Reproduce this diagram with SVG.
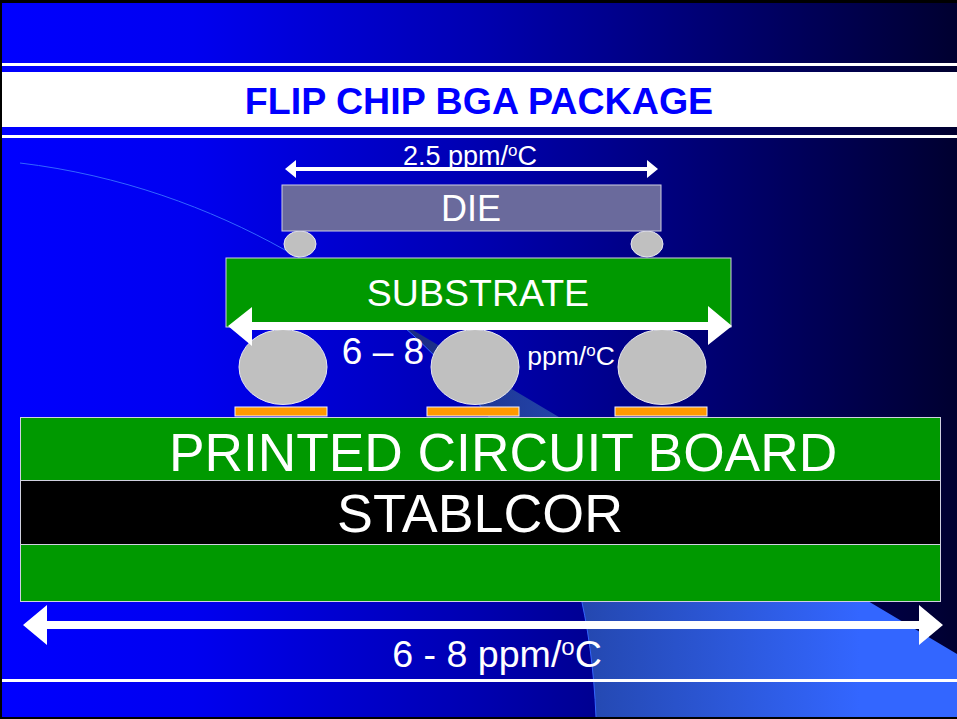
<svg xmlns="http://www.w3.org/2000/svg" width="957" height="719" viewBox="0 0 957 719">
<defs>
<linearGradient id="bg" gradientUnits="userSpaceOnUse" x1="2" y1="0" x2="957" y2="0"><stop offset="0" stop-color="#0000ff"/><stop offset="0.2" stop-color="#0000f0"/><stop offset="0.5" stop-color="#0000b0"/><stop offset="0.75" stop-color="#000070"/><stop offset="1" stop-color="#000030"/></linearGradient>
<linearGradient id="swoosh" gradientUnits="userSpaceOnUse" x1="400" y1="0" x2="860" y2="0"><stop offset="0" stop-color="#1a2a80"/><stop offset="0.4" stop-color="#2448b0"/><stop offset="1" stop-color="#3366ff"/></linearGradient>
</defs>
<style>
.t{font-family:"Liberation Sans",Arial,sans-serif;fill:#fff}
.w{fill:#fff}
.box{stroke:#d0d0e0;stroke-width:1}
.ball{fill:#c0c0c0;stroke:#e8e8f0;stroke-width:1}
.pad{fill:#ff9900;stroke:#f0f0ff;stroke-width:1}
.g{fill:#009900}
</style>
<rect width="957" height="719" fill="#000"/>
<rect x="2" y="3" width="955" height="714" fill="url(#bg)"/>
<path d="M396,320 L957,654 V717 H596 C594,670 588,625 578,585 C560,510 500,410 396,320Z" fill="url(#swoosh)"/>
<path d="M20,163 C120,175 210,208 285,250 C340,280 375,305 396,320 C500,410 560,510 578,585 C588,625 594,670 596,717" fill="none" stroke="#3366ff" stroke-width="1"/>
<g id="title-band">
<rect x="2" y="63" width="955" height="3" class="w"/>
<rect x="2" y="72" width="955" height="55" class="w"/>
<rect x="2" y="135" width="955" height="3" class="w"/>
<rect x="2" y="679" width="955" height="3" class="w"/>
<text x="479" y="114" text-anchor="middle" font-size="37.600" font-weight="700" style="font-family:'Liberation Sans',Arial,sans-serif;fill:#0000ff">FLIP CHIP BGA PACKAGE</text>
</g>
<g id="bump-left"><ellipse cx="300" cy="244" rx="16" ry="13" class="ball"/></g>
<g id="bump-right"><ellipse cx="647" cy="244" rx="16" ry="13" class="ball"/></g>
<g id="die"><rect x="282" y="185" width="379" height="46" fill="#6a6a9c" class="box"/><text x="471" y="221" text-anchor="middle" font-size="36" class="t">DIE</text></g>
<g id="substrate"><rect x="226" y="258" width="505" height="69" class="g box"/><text x="478" y="306" text-anchor="middle" font-size="37.500" class="t">SUBSTRATE</text></g>
<g id="ball-1"><ellipse cx="283" cy="367" rx="44" ry="37.500" class="ball"/></g>
<g id="ball-2"><ellipse cx="475" cy="367" rx="44" ry="37.500" class="ball"/></g>
<g id="ball-3"><ellipse cx="662" cy="367" rx="44" ry="37.500" class="ball"/></g>
<g id="pad-1"><rect x="235" y="407" width="92" height="9" class="pad"/></g>
<g id="pad-2"><rect x="427" y="407" width="92" height="9" class="pad"/></g>
<g id="pad-3"><rect x="615" y="407" width="92" height="9" class="pad"/></g>
<g id="pcb"><rect x="20.500" y="417.500" width="920" height="63" class="g box"/><text x="503" y="471" text-anchor="middle" font-size="53.300" class="t">PRINTED CIRCUIT BOARD</text></g>
<g id="stablcor"><rect x="20.500" y="480.500" width="920" height="64" fill="#000" class="box"/><text x="480" y="532" text-anchor="middle" font-size="53.800" class="t">STABLCOR</text></g>
<g id="pcb-lower"><rect x="20.500" y="544.500" width="920" height="57" class="g box"/></g>
<g id="connectors">
<path d="M285,169 L296,160 V167 H647 V160 L658,169 L647,178 V171 H296 V178Z" class="w"/>
<path d="M228,326 L252,307 V322 H708 V306 L732,326 L708,345 V330 H252 V346Z" class="w"/>
<path d="M23,625 L47,605 V621 H919 V605 L943,625 L919,645 V629 H47 V645Z" class="w"/>
</g>
<g id="labels">
<text x="470" y="165" text-anchor="middle" font-size="27" class="t">2.5 ppm/<tspan font-size="17" dy="-9">o</tspan><tspan dy="9">C</tspan></text>
<text x="383" y="364" text-anchor="middle" font-size="37" class="t">6 – 8</text>
<text x="571" y="365" text-anchor="middle" font-size="26.500" class="t">ppm/<tspan font-size="17" dy="-9">o</tspan><tspan dy="9">C</tspan></text>
<text x="497" y="667" text-anchor="middle" font-size="37.600" class="t">6 - 8 ppm/<tspan font-size="24" dy="-12">o</tspan><tspan dy="12">C</tspan></text>
</g>
</svg>
